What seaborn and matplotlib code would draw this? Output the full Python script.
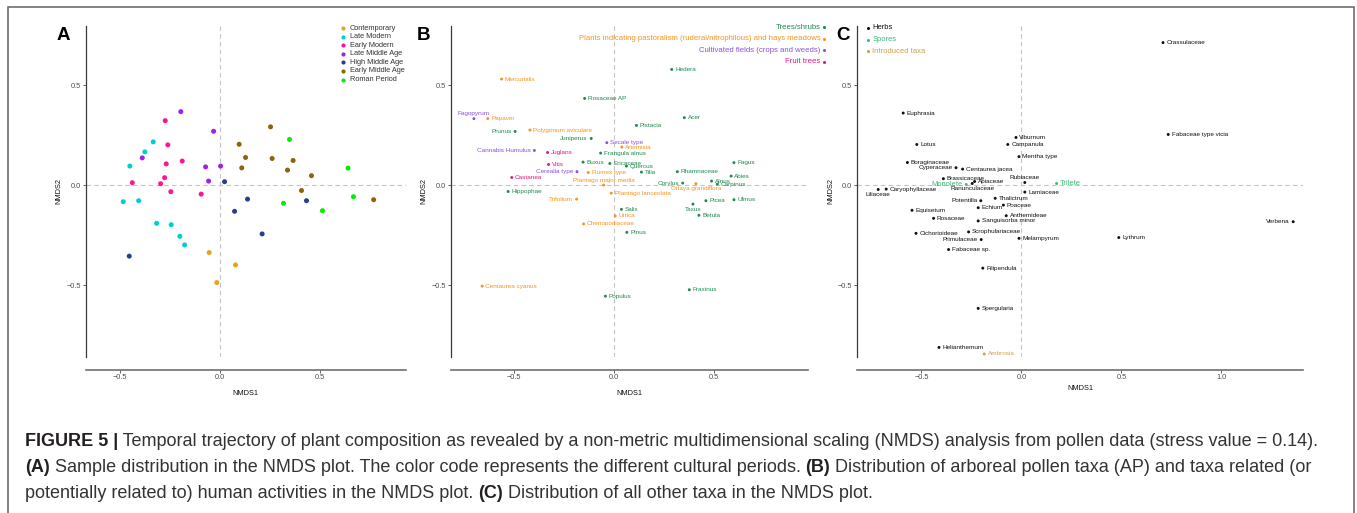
import matplotlib
matplotlib.use("Agg")
import matplotlib.pyplot as plt
import seaborn as sns
import pandas as pd
from matplotlib.lines import Line2D
from matplotlib.patches import Rectangle

# ---------------- Panel A data ----------------
periods = ["Contemporary", "Late Modern", "Early Modern", "Late Middle Age",
           "High Middle Age", "Early Middle Age", "Roman Period"]
period_colors = ["#E8A31C", "#00CED1", "#FF1493", "#A020F0",
                 "#27408B", "#8B6508", "#00EE00"]

a_period = (["Contemporary"] * 3 + ["Late Modern"] * 9 + ["Early Modern"] * 9 +
            ["Late Middle Age"] * 6 + ["High Middle Age"] * 6 +
            ["Early Middle Age"] * 10 + ["Roman Period"] * 5)
a_x = [-0.055, 0.077, -0.017,
       -0.335, -0.377, -0.452, -0.485, -0.408, -0.318, -0.245, -0.202, -0.178,
       -0.275, -0.262, -0.270, -0.190, -0.278, -0.440, -0.298, -0.247, -0.095,
       -0.197, -0.033, -0.390, -0.073, 0.002, -0.058,
       0.022, 0.137, 0.072, 0.432, 0.210, -0.455,
       0.252, 0.095, 0.127, 0.260, 0.108, 0.365, 0.337, 0.457, 0.407, 0.768,
       0.347, 0.640, 0.667, 0.317, 0.512]
a_y = [-0.337, -0.399, -0.487,
       0.216, 0.166, 0.095, -0.083, -0.078, -0.191, -0.198, -0.256, -0.299,
       0.322, 0.201, 0.106, 0.120, 0.037, 0.012, 0.007, -0.033, -0.045,
       0.367, 0.269, 0.136, 0.091, 0.095, 0.020,
       0.017, -0.070, -0.131, -0.078, -0.244, -0.355,
       0.291, 0.204, 0.138, 0.133, 0.086, 0.123, 0.075, 0.047, -0.027, -0.073,
       0.228, 0.085, -0.058, -0.091, -0.128]

# ---------------- Panel B data ----------------
b_groups = ["Trees/shrubs",
            "Plants indicating pastoralism (ruderal/nitrophilous) and hays meadows",
            "Cultivated fields (crops and weeds)", "Fruit trees"]
b_colors = ["#1E8A4C", "#F7931E", "#8A4FE3", "#E5177B"]
T, P, C, F = b_groups
b_taxa = ["Hedera", "Mercurialis", "Rosaceae AP", "Fagopyrum", "Papaver", "Acer",
          "Prunus", "Polygonum aviculare", "Pistacia", "Juniperus", "Secale type",
          "Artemisia", "Cannabis Humulus", "Juglans", "Frangula alnus", "Buxus",
          "Ericaceae", "Vitis", "Quercus", "Fagus", "Cerealia type", "Rumex type",
          "Tilia", "Rhamnaceae", "Abies", "Castanea", "Plantago major media", "Alnus",
          "Corylus", "Orlaya grandiflora", "Carpinus", "Hippophae",
          "Plantago lanceolata", "Trifolium", "Ulmus", "Taxus", "Picea", "Salix",
          "Betula", "Urtica", "Chenopodiaceae", "Pinus", "Centaurea cyanus",
          "Fraxinus", "Populus"]
b_group = [T, P, T, C, P, T, T, P, T, T, C, P, C, F, T, T, T, F, T, T, C, P, T, T,
           T, F, P, T, T, P, T, T, P, P, T, T, T, T, T, P, P, T, P, T, T]
b_x = [0.289, -0.561, -0.146, -0.699, -0.630, 0.352, -0.493, -0.419, 0.113, -0.113,
       -0.035, 0.040, -0.397, -0.331, -0.066, -0.154, -0.020, -0.326, 0.063, 0.600,
       -0.184, -0.128, 0.138, 0.317, 0.586, -0.510, -0.051, 0.488, 0.344, 0.410,
       0.517, -0.528, -0.013, -0.186, 0.600, 0.395, 0.460, 0.038, 0.425, 0.007,
       -0.151, 0.065, -0.658, 0.377, -0.042]
b_y = [0.578, 0.530, 0.433, 0.332, 0.332, 0.337, 0.268, 0.275, 0.298, 0.233,
       0.212, 0.190, 0.173, 0.163, 0.160, 0.115, 0.108, 0.103, 0.095, 0.112,
       0.067, 0.063, 0.065, 0.067, 0.045, 0.038, 0.000, 0.020, 0.010, 0.007,
       0.005, -0.032, -0.040, -0.070, -0.073, -0.095, -0.078, -0.121, -0.151, -0.154,
       -0.194, -0.236, -0.505, -0.523, -0.555]
b_side = ["r", "r", "r", "a", "r", "r", "l", "r", "r", "l", "r", "r", "l", "r", "r",
          "r", "r", "r", "r", "r", "l", "r", "r", "r", "r", "r", "a", "r", "l", "b",
          "r", "r", "r", "l", "r", "b", "r", "r", "r", "r", "r", "r", "r", "r", "r"]

# ---------------- Panel C data ----------------
c_groups = ["Herbs", "Spores", "Introduced taxa"]
c_colors = ["#111111", "#3DBB78", "#C9A24A"]
H, S, I = c_groups
c_taxa = ["Crassulaceae", "Euphrasia", "Fabaceae type vicia", "Viburnum", "Lotus",
          "Campanula", "Mentha type", "Boraginaceae", "Cyperaceae", "Centaurea jacea",
          "Brassicaceae", "Rubiaceae", "Apiaceae", "Ranunculaceae", "Monolete",
          "Trilete", "Liliaceae", "Caryophyllaceae", "Lamiaceae", "Thalictrum",
          "Potentilla", "Poaceae", "Echium", "Equisetum", "Anthemideae", "Rosaceae",
          "Sanguisorba minor", "Verbena", "Scrophulariaceae", "Cichorioideae",
          "Melampyrum", "Lythrum", "Primulaceae", "Fabaceae sp.", "Filipendula",
          "Spergularia", "Helianthemum", "Ambrosia"]
c_group = [H] * 14 + [S, S] + [H] * 21 + [I]
c_x = [0.708, -0.591, 0.734, -0.027, -0.523, -0.068, -0.012, -0.570, -0.327, -0.294,
       -0.390, 0.017, -0.234, -0.246, -0.276, 0.176, -0.716, -0.676, 0.017, -0.131,
       -0.203, -0.090, -0.216, -0.547, -0.076, -0.439, -0.216, 1.359, -0.264, -0.527,
       -0.012, 0.487, -0.201, -0.364, -0.193, -0.216, -0.412, -0.186]
c_y = [0.712, 0.360, 0.253, 0.238, 0.203, 0.203, 0.142, 0.113, 0.087, 0.080,
       0.032, 0.013, 0.018, 0.008, 0.003, 0.008, -0.022, -0.020, -0.035, -0.066,
       -0.078, -0.100, -0.113, -0.126, -0.153, -0.166, -0.179, -0.183, -0.234, -0.241,
       -0.266, -0.262, -0.272, -0.322, -0.415, -0.616, -0.811, -0.844]
c_side = ["r", "r", "r", "r", "r", "r", "r", "r", "l", "r", "r", "a", "r", "b", "l",
          "r", "b", "r", "r", "r", "l", "r", "r", "r", "r", "r", "r", "l", "r", "r",
          "r", "r", "l", "r", "r", "r", "r", "r"]

caption_lines = [
    [("FIGURE 5 |", True),
     (" Temporal trajectory of plant composition as revealed by a non-metric multidimensional "
      "scaling (NMDS) analysis from pollen data (stress value = 0.14).", False)],
    [("(A)", True),
     (" Sample distribution in the NMDS plot. The color code represents the different cultural periods. ", False),
     ("(B)", True),
     (" Distribution of arboreal pollen taxa (AP) and taxa related (or", False)],
    [("potentially related to) human activities in the NMDS plot. ", False),
     ("(C)", True),
     (" Distribution of all other taxa in the NMDS plot.", False)],
]

# ---------------- Figure ----------------
sns.set_style("white")
plt.rcParams["font.family"] = ["Liberation Sans", "DejaVu Sans"]

W, Hpx = 1357, 513
fig = plt.figure(figsize=(W / 100, Hpx / 100), dpi=100)


def rect(l, t, r, b):
    return [l / W, 1 - b / Hpx, (r - l) / W, (b - t) / Hpx]


def fx(px):
    return px / W


def fy(py):
    return 1 - py / Hpx


axA = fig.add_axes(rect(85.5, 26, 406, 357))
axB = fig.add_axes(rect(450.5, 26, 808, 357))
axC = fig.add_axes(rect(857, 26, 1303, 357))


def style(ax, xlim, xticks, xlabelpad):
    ax.set_xlim(*xlim)
    ax.set_ylim(-0.859, 0.795)
    ax.axhline(0, color="#C4C4C4", lw=0.8, ls=(0, (4, 3)), zorder=0)
    ax.axvline(0, color="#C4C4C4", lw=0.8, ls=(0, (4, 3)), zorder=0)
    for s in ["top", "right"]:
        ax.spines[s].set_visible(False)
    ax.spines["bottom"].set_position(("outward", 9))
    ax.spines["left"].set_color("#3A3A3A")
    ax.spines["left"].set_linewidth(0.9)
    ax.spines["bottom"].set_color("#707070")
    ax.spines["bottom"].set_linewidth(1.2)
    ax.set_xticks(xticks)
    ax.set_yticks([-0.5, 0.0, 0.5])
    ax.tick_params(axis="both", length=2, width=0.6, color="#444444",
                   labelsize=5.3, labelcolor="#4D4D4D", pad=1.5,
                   bottom=True, left=True)
    ax.set_xlabel("NMDS1", fontsize=5.3, color="#111111", labelpad=xlabelpad)
    ax.set_ylabel("NMDS2", fontsize=5.3, color="#111111", labelpad=2.5)
    ax.set_facecolor("white")


# Panel A
dfA = pd.DataFrame({"x": a_x, "y": a_y, "period": a_period})
sns.scatterplot(data=dfA, x="x", y="y", hue="period", hue_order=periods,
                palette=dict(zip(periods, period_colors)), s=13, linewidth=0,
                legend=False, ax=axA, zorder=3)
style(axA, (-0.674, 0.93), [-0.5, 0.0, 0.5], 6)

# Panel B
dfB = pd.DataFrame({"x": b_x, "y": b_y, "group": b_group, "taxon": b_taxa})
b_pal = dict(zip(b_groups, b_colors))
sns.scatterplot(data=dfB, x="x", y="y", hue="group", hue_order=b_groups,
                palette=b_pal, s=4.5, linewidth=0, legend=False, ax=axB, zorder=3)
style(axB, (-0.816, 0.97), [-0.5, 0.0, 0.5], 6)

# Panel C
dfC = pd.DataFrame({"x": c_x, "y": c_y, "group": c_group, "taxon": c_taxa})
c_pal = dict(zip(c_groups, c_colors))
sns.scatterplot(data=dfC, x="x", y="y", hue="group", hue_order=c_groups,
                palette=c_pal, s=4.5, linewidth=0, legend=False, ax=axC, zorder=3)
style(axC, (-0.822, 1.408), [-0.5, 0.0, 0.5, 1.0], 2.5)

OFF = {"r": ((2.4, 0), "left", "center"),
       "l": ((-2.4, 0), "right", "center"),
       "a": ((0, 3.6), "center", "center"),
       "b": ((0, -3.6), "center", "center")}


def label_points(ax, df, pal, sides, sizes=None):
    for i, row in df.reset_index(drop=True).iterrows():
        off, ha, va = OFF[sides[i]]
        fs = sizes.get(row["group"], 4.6) if sizes else 4.6
        ax.annotate(row["taxon"], (row["x"], row["y"]), xytext=off,
                    textcoords="offset points", ha=ha, va=va, fontsize=fs,
                    color=pal[row["group"]], zorder=4)


label_points(axB, dfB, b_pal, b_side)
label_points(axC, dfC, c_pal, c_side, sizes={"Spores": 5.4, "Herbs": 4.6,
                                              "Introduced taxa": 4.6})


# ---------------- Legends (manual) ----------------
def legend(labels, colors, marker_x, text_x, y0, dy, ha, fs, ms, textcolors):
    for k, (lab, col, tcol) in enumerate(zip(labels, colors, textcolors)):
        y = y0 + k * dy
        fig.add_artist(Line2D([fx(marker_x)], [fy(y)], marker="o", ls="",
                              color=col, markersize=ms, markeredgewidth=0,
                              transform=fig.transFigure))
        fig.text(fx(text_x), fy(y), lab, ha=ha, va="center", fontsize=fs,
                 color=tcol)


legend(periods, period_colors, 342.7, 349.5, 28.2, 8.55, "left", 5.3, 3.0,
       ["#333333"] * 7)
legend(b_groups, b_colors, 824.5, 820.5, 27.4, 11.45, "right", 5.55, 2.2, b_colors)
legend(c_groups, c_colors, 867.7, 872.5, 27.7, 11.8, "left", 5.5, 2.2, c_colors)

# Panel letters
for letter, px in [("A", 56.5), ("B", 416.5), ("C", 836.5)]:
    fig.text(fx(px), fy(40.5), letter, ha="left", va="baseline", fontsize=13.5,
             fontweight="bold", color="black")

# ---------------- Outer frame ----------------
fig.add_artist(Rectangle((fx(7.5), -0.05), fx(1353.5) - fx(7.5), fy(6.5) + 0.05,
                         transform=fig.transFigure, fill=False,
                         edgecolor="#6E6E6E", linewidth=1.2))

# ---------------- Caption ----------------
renderer = fig.canvas.get_renderer()
probe = [fig.text(0, 0, s, fontsize=12, fontweight="bold" if b else "normal")
         for s, b in caption_lines[0]]
wtot = sum(t.get_window_extent(renderer).width for t in probe)
for t in probe:
    t.remove()
cap_fs = 12 * 1292.0 / wtot

baselines = [446.5, 472.5, 498.5]
for line, yb in zip(caption_lines, baselines):
    xcur = 25.0
    for s, bold in line:
        t = fig.text(fx(xcur), fy(yb), s, ha="left", va="baseline", fontsize=cap_fs,
                     fontweight="bold" if bold else "normal",
                     color="#231F20" if bold else "#333333")
        xcur += t.get_window_extent(renderer).width

fig.savefig("out.png", dpi=100, facecolor="white")
